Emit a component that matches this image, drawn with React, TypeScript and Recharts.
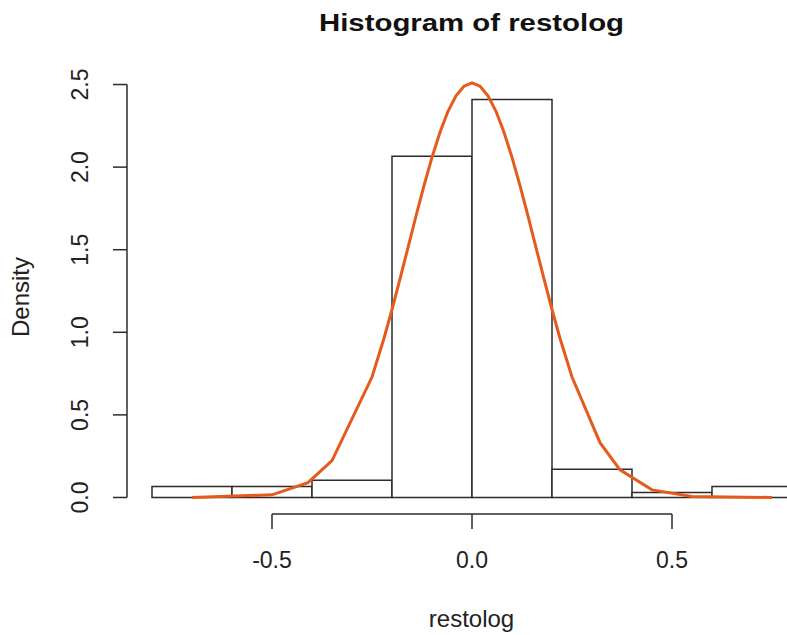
import { ComposedChart, Line, XAxis, YAxis, ReferenceArea, ReferenceLine } from 'recharts'

const binStart = [-0.8, -0.6, -0.4, -0.2, 0.0, 0.2, 0.4, 0.6]
const binWidth = 0.2
const density = [0.067, 0.067, 0.105, 2.066, 2.409, 0.171, 0.03, 0.067]

const curveX = [
  -0.7, -0.5, -0.41, -0.35, -0.25, -0.22, -0.2, -0.18, -0.16, -0.14, -0.12, -0.1, -0.08, -0.06, -0.04, -0.02,
  0, 0.02, 0.04, 0.06, 0.08, 0.1, 0.12, 0.14, 0.16, 0.18, 0.2, 0.22, 0.25, 0.32, 0.37, 0.45, 0.55, 0.75,
]
const curveY = [
  0.0, 0.016, 0.09, 0.223, 0.729, 0.964, 1.138, 1.323, 1.513, 1.704, 1.888, 2.059, 2.211, 2.338, 2.432, 2.49,
  2.51, 2.49, 2.432, 2.338, 2.211, 2.059, 1.888, 1.704, 1.513, 1.323, 1.138, 0.964, 0.729, 0.332, 0.167, 0.046,
  0.006, 0.0,
]

const xTicks = [-0.5, 0, 0.5]
const yTicks = [0, 0.5, 1, 1.5, 2, 2.5]

const FONT = '"Liberation Sans", Arial, Helvetica, sans-serif'
const INK = '#2b2b2b'

const curve = curveX.map((x, i) => ({ x, y: curveY[i] }))

function YTick({ x, y, payload }: any) {
  return (
    <text x={x} y={y} transform={`rotate(-90, ${x}, ${y})`} textAnchor="middle" fontSize={23} fill="#222" fontFamily={FONT}>
      {payload.value.toFixed(1)}
    </text>
  )
}

function XTick({ x, y, payload }: any) {
  return (
    <text x={x} y={y} textAnchor="middle" fontSize={23} fill="#222" fontFamily={FONT}>
      {payload.value.toFixed(1)}
    </text>
  )
}

export default function App() {
  return (
    <div style={{ position: 'relative', width: 787, height: 635, overflow: 'hidden', background: '#fff' }}>
      <style>{'body{margin:0}'}</style>
      <ComposedChart width={830} height={635} data={curve} margin={{ top: 68, right: 13, left: 0, bottom: 0 }}>
        <XAxis
          dataKey="x"
          type="number"
          domain={[-0.8625, 0.8625]}
          allowDataOverflow
          ticks={xTicks}
          height={121}
          axisLine={false}
          tickSize={15}
          tickMargin={39}
          tickLine={{ stroke: INK, strokeWidth: 1.5 }}
          tick={<XTick />}
        />
        <YAxis
          type="number"
          domain={[-0.1, 2.6]}
          allowDataOverflow
          ticks={yTicks}
          width={127}
          axisLine={false}
          tickSize={14}
          tickMargin={25}
          tickLine={{ stroke: INK, strokeWidth: 1.5 }}
          tick={<YTick />}
        />
        {binStart.map((b, i) => (
          <ReferenceArea
            key={i}
            x1={b}
            x2={b + binWidth}
            y1={0}
            y2={density[i]}
            fill="#fff"
            fillOpacity={1}
            stroke={INK}
            strokeWidth={1.5}
            strokeOpacity={1}
          />
        ))}
        <ReferenceLine
          segment={[{ x: -0.8625, y: 0 }, { x: -0.8625, y: 2.5 }]}
          stroke={INK}
          strokeWidth={1.5}
        />
        <ReferenceLine
          segment={[{ x: -0.5, y: -0.1 }, { x: 0.5, y: -0.1 }]}
          stroke={INK}
          strokeWidth={1.5}
        />
        <Line
          type="linear"
          dataKey="y"
          stroke="#E65A1E"
          strokeWidth={3}
          dot={false}
          isAnimationActive={false}
        />
      </ComposedChart>
      <svg
        width={787}
        height={635}
        style={{ position: 'absolute', left: 0, top: 0, pointerEvents: 'none' }}
      >
        <text
          x={471.5}
          y={31}
          textAnchor="middle"
          fontSize={23}
          fontWeight="bold"
          fontFamily={FONT}
          fill="#111"
          textLength={305}
          lengthAdjust="spacingAndGlyphs"
        >
          Histogram of restolog
        </text>
        <text x={29} y={297} transform="rotate(-90, 29, 297)" textAnchor="middle" fontSize={24} fontFamily={FONT} fill="#222">
          Density
        </text>
        <text x={471.5} y={627} textAnchor="middle" fontSize={24} fontFamily={FONT} fill="#222">
          restolog
        </text>
      </svg>
    </div>
  )
}
